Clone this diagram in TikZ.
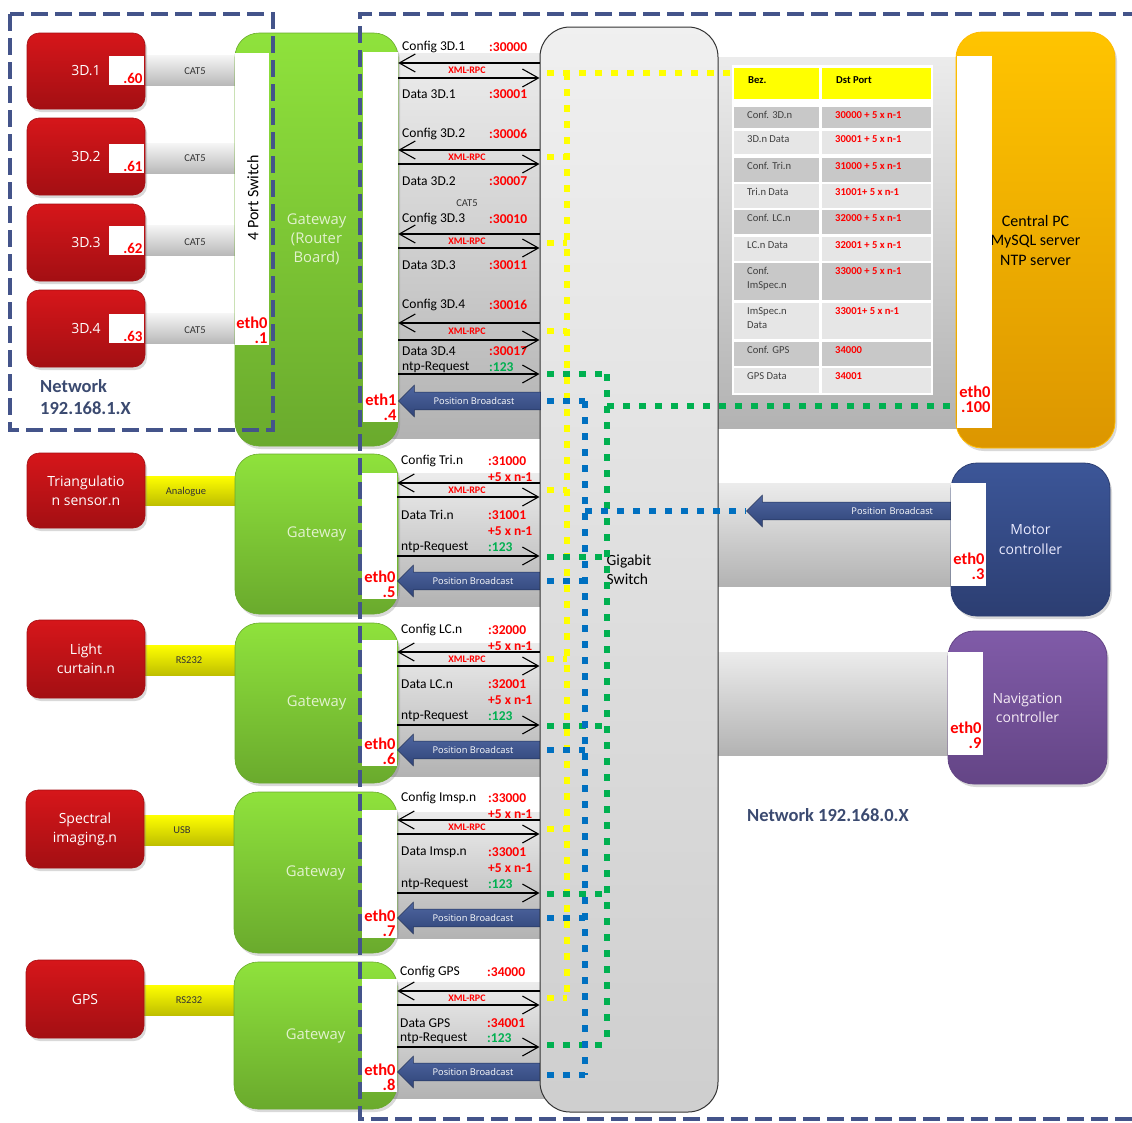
\documentclass[tikz,border=0pt]{standalone}
\usepackage{fontspec}
\setmainfont{Carlito}
\newfontfamily\boxfont{Open Sans}
\usetikzlibrary{arrows.meta,shapes.arrows,shadows,backgrounds}

\definecolor{netblue}{RGB}{68,84,138}
\definecolor{nettext}{RGB}{59,74,112}
\definecolor{devred}{RGB}{214,22,26}
\definecolor{devreddark}{RGB}{163,15,19}
\definecolor{gwgreen}{RGB}{143,226,60}
\definecolor{gwgreendark}{RGB}{106,170,45}
\definecolor{gwtext}{RGB}{226,242,206}
\definecolor{pcorange}{RGB}{255,196,0}
\definecolor{pcorangedark}{RGB}{220,150,0}
\definecolor{mcblue}{RGB}{60,86,152}
\definecolor{mcbluedark}{RGB}{44,62,114}
\definecolor{nvpurple}{RGB}{128,91,168}
\definecolor{nvpurpledark}{RGB}{100,69,134}
\definecolor{pbblue}{RGB}{59,85,150}
\definecolor{portred}{RGB}{255,0,0}
\definecolor{ntpgreen}{RGB}{0,176,80}
\definecolor{dotyellow}{RGB}{255,255,0}
\definecolor{dotgreen}{RGB}{0,176,80}
\definecolor{dotblue}{RGB}{0,112,192}
\definecolor{rowdark}{RGB}{200,200,200}
\definecolor{rowlight}{RGB}{230,230,230}

\tikzset{
  shade box/.style={drop shadow={opacity=0.3, shadow xshift=2pt, shadow yshift=-3pt}},
  dev/.style={shade box, draw=devreddark, line width=0.6pt, rounded corners=12pt,
    top color=devred, bottom color=devreddark, text=white, align=center,
    inner sep=0pt, font=\boxfont\fontsize{14}{19}\selectfont},
  gw/.style={shade box, draw=gwgreendark, line width=0.6pt, rounded corners=24pt,
    top color=gwgreen, bottom color=gwgreendark, text=gwtext, align=center,
    inner sep=0pt, minimum width=163pt, font=\boxfont\fontsize{14.8}{19}\selectfont},
  host/.style={shade box, line width=0.8pt, rounded corners=26pt, align=center,
    inner sep=0pt, minimum width=159pt},
  strip/.style={fill=white, inner sep=0pt, minimum width=35pt},
  ethl/.style={anchor=south east, inner sep=1.5pt, align=right, text=portred,
    font=\fontsize{16.5}{15}\selectfont\bfseries},
  ipbox/.style={fill=white, inner sep=0pt, minimum width=35pt, minimum height=29pt},
  ipnum/.style={anchor=south east, inner sep=1.5pt, text=portred,
    font=\fontsize{15}{15}\selectfont\bfseries},
  cat/.style={top color=gray!8, bottom color=gray!55},
  serial/.style={top color=dotyellow, bottom color=dotyellow!75!black},
  cab/.style={inner sep=0pt, text=black!80, font=\fontsize{10.5}{11}\selectfont},
  band/.style={top color=gray!15, bottom color=gray!60},
  msg/.style={line width=1.1pt, -{Straight Barb[length=16pt,width=18pt]}},
  cfg/.style={anchor=west, inner sep=0pt, font=\fontsize{13.5}{14}\selectfont},
  prt/.style={cfg, text=portred, font=\fontsize{13.5}{14}\selectfont\bfseries},
  ntp/.style={cfg, text=ntpgreen, font=\fontsize{13.5}{14}\selectfont\bfseries},
  xml/.style={inner sep=0pt, text=portred, font=\fontsize{10}{10}\selectfont\bfseries},
  pb/.style={single arrow, shape border rotate=180, single arrow head extend=7pt,
    inner xsep=3pt, inner ysep=5pt, draw=pbblue!60!black, line width=0.5pt,
    top color=pbblue!90!white, bottom color=pbblue!80!black, text=white,
    font=\boxfont\fontsize{9.3}{10}\selectfont},
  dots/.style={line width=6.5pt, dash pattern=on 7pt off 9pt},
  net/.style={netblue, line width=4.5pt, dash pattern=on 17pt off 7pt},
  nettxt/.style={inner sep=0pt, text=nettext, font=\fontsize{18.5}{21.5}\selectfont\bfseries},
  tabhead/.style={anchor=west, inner sep=0pt, font=\fontsize{10.6}{11}\selectfont\bfseries},
  tab/.style={anchor=north west, inner sep=0pt, align=left, text=black!75,
    font=\fontsize{10.6}{14}\selectfont},
  tabport/.style={tab, text=portred, font=\fontsize{10.6}{14}\selectfont\bfseries},
}

\begin{document}
\begin{tikzpicture}[x=1pt, y=-1pt]
\useasboundingbox (0,0) rectangle (1132,1122);

% sensors
\node[dev, minimum width=118pt, minimum height=76pt] (d1) at (86,71) {3D.1};
\node[dev, minimum width=118pt, minimum height=77pt] (d2) at (86,156.5) {3D.2};
\node[dev, minimum width=118pt, minimum height=77pt] (d3) at (86,242.5) {3D.3};
\node[dev, minimum width=118pt, minimum height=77pt] (d4) at (86,328.5) {3D.4};
\node[dev, minimum width=118pt, minimum height=75pt] (dt) at (86,490.5) {Triangulatio\\n sensor.n};
\node[dev, minimum width=118pt, minimum height=78pt] (dl) at (86,659) {Light\\curtain.n};
\node[dev, minimum width=118pt, minimum height=78pt] (ds) at (85,829) {Spectral\\imaging.n};
\node[dev, minimum width=118pt, minimum height=78pt] (dg) at (85,999) {GPS};

\node[ipbox] (ip1) at (126.5,70.5) {};
\node[ipnum] (ip1n) at (ip1.south east) {.60};
\node[ipbox] (ip2) at (126.5,158.5) {};
\node[ipnum] (ip2n) at (ip2.south east) {.61};
\node[ipbox] (ip3) at (126.5,240.5) {};
\node[ipnum] (ip3n) at (ip3.south east) {.62};
\node[ipbox] (ip4) at (126.5,328.5) {};
\node[ipnum] (ip4n) at (ip4.south east) {.63};

% gateways
\node[gw, minimum height=413pt] (g1) at (316.5,239.5) {Gateway\\(Router\\Board)};
\node[gw, minimum height=160pt] (g2) at (316.5,534) {Gateway};
\node[gw, minimum height=160pt] (g3) at (316.5,703) {Gateway};
\node[gw, minimum height=161pt] (g4) at (315.5,872.5) {Gateway};
\node[gw, minimum height=147pt] (g5) at (315.5,1035.5) {Gateway};

\node[strip, minimum width=34pt, minimum height=292pt] (ps) at (252,199) {};
\node[rotate=90, inner sep=0pt, font=\fontsize{16}{17}\selectfont] (pst) at (253,198) {4 Port Switch};
\node[ethl] (ps-eth) at (ps.south east) {eth0\\.1};
\node[strip, minimum height=370pt] (s1) at (380.5,237) {};
\node[ethl] (s1-eth) at (s1.south east) {eth1\\.4};
\node[strip, minimum height=126pt] (s2) at (379.5,536) {};
\node[ethl] (s2-eth) at (s2.south east) {eth0\\.5};
\node[strip, minimum height=126pt] (s3) at (379.5,703) {};
\node[ethl] (s3-eth) at (s3.south east) {eth0\\.6};
\node[strip, minimum height=128pt] (s4) at (379.5,874) {};
\node[ethl] (s4-eth) at (s4.south east) {eth0\\.7};
\node[strip, minimum height=113pt] (s5) at (379.5,1035.5) {};
\node[ethl] (s5-eth) at (s5.south east) {eth0\\.8};

% switch and hosts
\node[draw=black!80, line width=1pt, rounded corners=30pt, top color=gray!12,
  bottom color=gray!38, minimum width=178pt, minimum height=1085pt, inner sep=0pt,
  align=left, font=\fontsize{15.5}{19}\selectfont] (sw) at (629,569.5) {Gigabit\\Switch};

\node[host, top color=pcorange, bottom color=pcorangedark, draw=pcorange!85!orange,
  minimum height=416pt, font=\fontsize{16}{19.5}\selectfont] (cpc) at (1035.5,240)
  {Central PC\\MySQL server\\NTP server};
\node[host, top color=mcblue, bottom color=mcbluedark, draw=mcbluedark, text=white!92!blue,
  minimum height=153pt, font=\boxfont\fontsize{14}{20}\selectfont] (mc) at (1030.5,539.5)
  {Motor\\controller};
\node[host, top color=nvpurple, bottom color=nvpurpledark, draw=nvpurpledark, text=white!92!violet,
  minimum height=153pt, font=\boxfont\fontsize{14}{19}\selectfont] (nv) at (1027.5,707.5)
  {Navigation\\controller};

\node[strip, minimum height=372pt] (pcs) at (974.5,242) {};
\node[ethl, yshift=14pt] (pcs-eth) at (pcs.south east) {eth0\\.100};
\node[strip, minimum height=103pt] (mcs) at (968.5,534.5) {};
\node[ethl, yshift=5pt] (mcs-eth) at (mcs.south east) {eth0\\.3};
\node[strip, minimum height=103pt] (nvs) at (965.5,703.5) {};
\node[ethl, yshift=5pt] (nvs-eth) at (nvs.south east) {eth0\\.9};

% cables and network links
\begin{pgfonlayer}{background}
  \shade[cat] (d1.center |- ip1.north) rectangle (ps.center |- ip1.south);
  \shade[cat] (d2.center |- ip2.north) rectangle (ps.center |- ip2.south);
  \shade[cat] (d3.center |- ip3.north) rectangle (ps.center |- ip3.south);
  \shade[cat] (d4.center |- ip4.north) rectangle (ps.center |- ip4.south);
  \shade[serial] (dt.center |- 0,476) rectangle (g2.center |- 0,505);
  \shade[serial] (dl.center |- 0,645) rectangle (g3.center |- 0,675);
  \shade[serial] (ds.center |- 0,815) rectangle (g4.center |- 0,845);
  \shade[serial] (dg.center |- 0,985) rectangle (g5.center |- 0,1015);
  \shade[band] (s1.center |- 0,53) rectangle (sw.center |- 0,438);
  \shade[band] (s2.center |- 0,473) rectangle (sw.center |- 0,606);
  \shade[band] (s3.center |- 0,643) rectangle (sw.center |- 0,776);
  \shade[band] (s4.center |- 0,812) rectangle (sw.center |- 0,938);
  \shade[band] (s5.center |- 0,982) rectangle (sw.center |- 0,1098);
  \shade[band] (sw.center |- 0,57) rectangle (pcs.center |- 0,428);
  \shade[band] (sw.center |- 0,483) rectangle (mcs.center |- 0,586);
  \shade[band] (sw.center |- 0,652) rectangle (nvs.center |- 0,755);
\end{pgfonlayer}

\node[cab] (c1) at (195,71) {CAT5};
\node[cab] (c2) at (195,158) {CAT5};
\node[cab] (c3) at (195,242) {CAT5};
\node[cab] (c4) at (195,330) {CAT5};
\node[cab] (c5) at (467,203) {CAT5};
\node[cab] (ct) at (186,492) {Analogue};
\node[cab] (cl) at (189,660) {RS232};
\node[cab] (cs) at (182,830) {USB};
\node[cab] (cg) at (189,1000) {RS232};

% 3D scanners behind the router board
\foreach \n/\yc/\yd/\pa/\pd in {1/47/94/30000/30001, 2/134/181/30006/30007,
    3/219/265/30010/30011, 4/305/351/30016/30017}{
  \node[cfg] (cf\n) at (402,\yc) {Config 3D.\n};
  \node[prt] (cp\n) at (489,\yc) {:\pa};
  \node[cfg] (df\n) at (402,\yd) {Data 3D.\n};
  \node[prt] (dp\n) at (489,\yd) {:\pd};
}
\foreach \n/\ya/\yb in {1/63/78, 2/150/164, 3/234/248, 4/323/340}{
  \draw[msg] (sw.west |- 0,\ya) -- (s1.east |- 0,\ya);
  \draw[msg] (s1.east |- 0,\yb) -- (sw.west |- 0,\yb);
  \node[xml] (xr\n) at (467,{(\ya+\yb)/2}) {XML-RPC};
}
\node[cfg] (nt1) at (402,367) {ntp-Request};
\node[ntp] (np1) at (489,367) {:123};
\draw[msg] (s1.east |- 0,374) -- (sw.west |- 0,374);
\node[pb, minimum height=142pt, anchor=tip] (pb1) at (s1.east |- 0,401) {Position Broadcast};

% single sensor gateways
\foreach \g/\nm/\yc/\pa/\pd in {2/Tri.n/461/31000/31001, 3/LC.n/630/32000/32001,
    4/Imsp.n/798/33000/33001}{
  \node[cfg] (cf\g) at (401,\yc) {Config \nm};
  \node[prt] (cp\g) at (488,\yc) {:\pa};
  \node[prt] (cq\g) at (488,\yc+16) {+5 x n-1};
  \draw[msg] (sw.west |- 0,\yc+22) -- (s\g.east |- 0,\yc+22);
  \draw[msg] (s\g.east |- 0,\yc+36) -- (sw.west |- 0,\yc+36);
  \node[xml] (xr\g) at (467,\yc+29) {XML-RPC};
  \node[cfg] (df\g) at (401,\yc+54) {Data \nm};
  \node[prt] (dp\g) at (488,\yc+54) {:\pd};
  \node[prt] (dq\g) at (488,\yc+70) {+5 x n-1};
  \node[cfg] (nt\g) at (401,\yc+86) {ntp-Request};
  \node[ntp] (np\g) at (488,\yc+86) {:123};
  \draw[msg] (s\g.east |- 0,\yc+95) -- (sw.west |- 0,\yc+95);
  \node[pb, minimum height=142pt, anchor=tip] (pb\g) at (s\g.east |- 0,\yc+120) {Position Broadcast};
}

\node[cfg] (cf5) at (400,972) {Config GPS};
\node[prt] (cp5) at (487,972) {:34000};
\draw[msg] (sw.west |- 0,991) -- (s5.east |- 0,991);
\draw[msg] (s5.east |- 0,1005) -- (sw.west |- 0,1005);
\node[xml] (xr5) at (467,998) {XML-RPC};
\node[cfg] (df5) at (400,1023) {Data GPS};
\node[prt] (dp5) at (487,1023) {:34001};
\node[cfg] (nt5) at (400,1038) {ntp-Request};
\node[ntp] (np5) at (487,1038) {:123};
\draw[msg] (s5.east |- 0,1047) -- (sw.west |- 0,1047);
\node[pb, minimum height=142pt, anchor=tip] (pb5) at (s5.east |- 0,1072) {Position Broadcast};

\node[pb, minimum height=204pt, anchor=tail, text width=160pt, align=right] (pbm)
  at (mcs.west |- 0,511) {Position Broadcast};

% traffic inside the switch
\draw[dots, dotyellow] (547,73) -- (730,73);
\draw[dots, dotyellow] (567,73) -- (567,998);
\foreach \y in {157,243,331,490,659,829,998}
  \draw[dots, dotyellow] (547,\y) -- (567,\y);
\draw[dots, dotgreen] (607,374) -- (607,1045);
\draw[dots, dotgreen] (607,406) -- (pcs.west |- 0,406);
\foreach \y in {374,557,726,894,1045}
  \draw[dots, dotgreen] (547,\y) -- (607,\y);
\draw[dots, dotblue] (585,401) -- (585,1075);
\draw[dots, dotblue] (585,511) -- (pbm.tip);
\foreach \y in {401,581,750,918,1075}
  \draw[dots, dotblue] (547,\y) -- (585,\y);

% port table
\fill[white] (732,65) rectangle (933,395);
\fill[dotyellow] (734,68) rectangle (819,99);
\fill[dotyellow] (822,68) rectangle (931,99);
\node[tabhead] (th1) at (748,80) {Bez.};
\node[tabhead] (th2) at (836,80) {Dst Port};
\foreach \ya/\yb/\rc/\rl/\rp in {
    107/128/rowdark/{Conf. 3D.n}/{30000 + 5 x n-1},
    131/154/rowlight/{3D.n Data}/{30001 + 5 x n-1},
    158/182/rowdark/{Conf. Tri.n}/{31000 + 5 x n-1},
    184/208/rowlight/{Tri.n Data}/{31001+ 5 x n-1},
    210/234/rowdark/{Conf. LC.n}/{32000 + 5 x n-1},
    237/261/rowlight/{LC.n Data}/{32001 + 5 x n-1},
    263/300/rowdark/{Conf.\\ImSpec.n}/{33000 + 5 x n-1},
    303/339/rowlight/{ImSpec.n\\Data}/{33001+ 5 x n-1},
    342/366/rowdark/{Conf. GPS}/{34000},
    368/393/rowlight/{GPS Data}/{34001}}{
  \fill[\rc] (734,\ya) rectangle (819,\yb);
  \fill[\rc] (822,\ya) rectangle (931,\yb);
  \node[tab] (tl\ya) at (747,\ya+4.5) {\rl};
  \node[tabport] (tp\ya) at (835,\ya+4.5) {\rp};
}

% networks
\draw[net] (10,14) rectangle (273,430);
\draw[net] (1140,14) -- (360,14) -- (360,1119) -- (1140,1119);
\node[nettxt, anchor=west, align=left] (n1) at (40,397) {Network\\192.168.1.X};
\node[nettxt] (n0) at (828,815) {Network 192.168.0.X};
\end{tikzpicture}
\end{document}
